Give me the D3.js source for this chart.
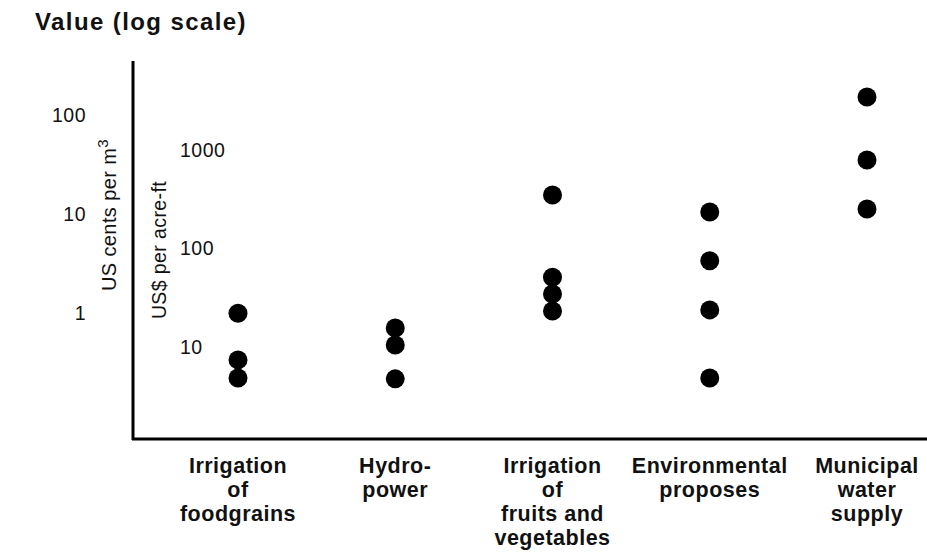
<!DOCTYPE html>
<html>
<head>
<meta charset="utf-8">
<script src="https://cdn.jsdelivr.net/npm/d3@7"></script>
<style>
  body { margin: 0; background: #fff; }
  svg { display: block; font-family: "Liberation Sans", Arial, sans-serif; }
</style>
</head>
<body>
<div id="chart"></div>
<script>
// Data
const categories = [
  "Irrigation of foodgrains",
  "Hydro-power",
  "Irrigation of fruits and vegetables",
  "Environmental proposes",
  "Municipal water supply"
];
const categoryLines = [
  ["Irrigation", "of", "foodgrains"],
  ["Hydro-", "power"],
  ["Irrigation", "of", "fruits and", "vegetables"],
  ["Environmental", "proposes"],
  ["Municipal", "water", "supply"]
];
// values in US$ per acre-ft
const foodgrains = [22, 7.4, 4.85];
const hydropower = [15.6, 10.5, 4.75];
const fruitsVeg = [349, 51, 34.5, 23.2];
const environmental = [235, 75, 23.8, 4.85];
const municipal = [3450, 790, 252];
const dollarTicks = [10, 100, 1000];
const centTicks = [1, 10, 100];

const seriesValues = [foodgrains, hydropower, fruitsVeg, environmental, municipal];

const width = 927, height = 552;

const svg = d3.select("#chart")
  .append("svg")
  .attr("width", width)
  .attr("height", height);

// Scales
const x = d3.scalePoint()
  .domain(categories)
  .range([238, 867]);

const y = d3.scaleLog()
  .domain([10, 1000])
  .range([347, 150]);

const yCents = d3.scaleLog()
  .domain([1, 100])
  .range([313, 115]);

// Frame (left + bottom axis lines)
svg.append("line")
  .attr("x1", 133).attr("x2", 133)
  .attr("y1", 61).attr("y2", 440)
  .attr("stroke", "#000")
  .attr("stroke-width", 3);

svg.append("line")
  .attr("x1", 132).attr("x2", 927)
  .attr("y1", 439).attr("y2", 439)
  .attr("stroke", "#000")
  .attr("stroke-width", 3);

// US$ per acre-ft ticks (inside the plot)
const dollarAxis = svg.append("g")
  .attr("transform", "translate(180,0)")
  .call(d3.axisRight(y).tickValues(dollarTicks).tickSize(0).tickPadding(0).tickFormat(d3.format("d")));
dollarAxis.select(".domain").remove();
dollarAxis.selectAll("text")
  .style("font-size", "19.5px")
  .style("letter-spacing", "0.5px")
  .style("font-family", "Liberation Sans, Arial, sans-serif")
  .attr("fill", "#111");

// US cents per m3 ticks (outside left)
const centAxis = svg.append("g")
  .attr("transform", "translate(86,0)")
  .call(d3.axisLeft(yCents).tickValues(centTicks).tickSize(0).tickPadding(0).tickFormat(d3.format("d")));
centAxis.select(".domain").remove();
centAxis.selectAll("text")
  .style("font-size", "19.5px")
  .style("letter-spacing", "0.5px")
  .style("font-family", "Liberation Sans, Arial, sans-serif")
  .attr("fill", "#111");

// Axis titles
const centLabel = svg.append("text")
  .attr("transform", "translate(116,215) rotate(-90)")
  .attr("text-anchor", "middle")
  .style("font-size", "20px")
  .style("letter-spacing", "0.4px")
  .attr("fill", "#111");
centLabel.append("tspan").text("US cents per m");
centLabel.append("tspan").attr("dy", -8).style("font-size", "15px").text("3");

svg.append("text")
  .attr("transform", "translate(166,250) rotate(-90)")
  .attr("text-anchor", "middle")
  .style("font-size", "19.5px")
  .style("letter-spacing", "0.4px")
  .attr("fill", "#111")
  .text("US$ per acre-ft");

// Title
svg.append("text")
  .attr("x", 35)
  .attr("y", 30)
  .style("font-size", "24px")
  .style("font-weight", "bold")
  .style("letter-spacing", "1.4px")
  .attr("fill", "#111")
  .text("Value (log scale)");

// Points
const points = [];
categories.forEach((c, i) => {
  seriesValues[i].forEach(v => points.push({ category: c, value: v }));
});

svg.selectAll(".dot")
  .data(points)
  .enter()
  .append("circle")
  .attr("class", "dot")
  .attr("cx", d => x(d.category))
  .attr("cy", d => y(d.value))
  .attr("r", 9.5)
  .attr("fill", "#000");

// Category labels
categories.forEach((c, i) => {
  const t = svg.append("text")
    .attr("text-anchor", "middle")
    .style("font-size", "21.5px")
    .style("font-weight", "bold")
    .style("letter-spacing", "0.5px")
    .attr("fill", "#111");
  categoryLines[i].forEach((line, j) => {
    t.append("tspan")
      .attr("x", x(c))
      .attr("y", 473 + j * 24)
      .text(line);
  });
});
</script>
</body>
</html>
